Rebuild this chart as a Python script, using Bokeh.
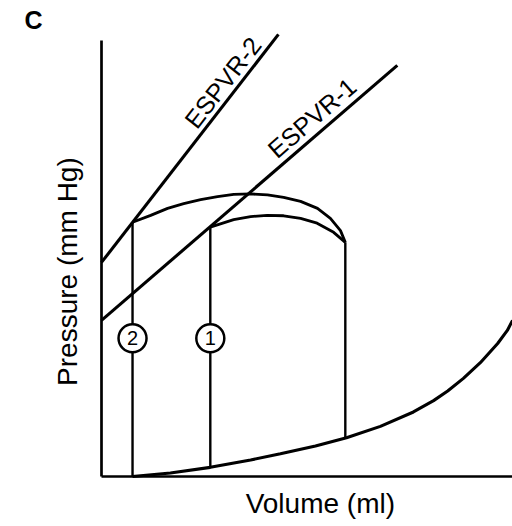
import math
import numpy as np
from bokeh.plotting import figure
from bokeh.models import Range1d, LinearAxis, FixedTicker, Label, ColumnDataSource
from bokeh.core.properties import value
from bokeh.embed import file_html
from bokeh.resources import INLINE

# ---- data (arbitrary volume / pressure units) ----
# end-diastolic pressure-volume relation
edpvr_volume = [7.7, 17.1, 27.0, 37.0, 44.4, 53.1, 60.8, 69.2, 77.4, 82.4, 85.9, 89.8, 94.0, 98.3, 100.7, 102.0]
edpvr_pressure = [0.0, 0.8, 2.1, 3.8, 5.2, 7.0, 8.9, 11.5, 14.8, 17.4, 19.6, 22.5, 26.1, 30.5, 33.5, 35.8]

# end-systolic pressure-volume relations (straight lines)
espvr1_volume = [0.0, 73.4]
espvr1_pressure = [35.8, 94.3]
espvr2_volume = [0.0, 43.9]
espvr2_pressure = [49.1, 101.4]

# ejection arcs of the two loops
loop2_volume = [7.7, 12.2, 16.4, 20.4, 24.6, 28.8, 32.8, 37.0, 41.2, 45.2, 49.4, 53.6, 56.8, 59.3, 60.5]
loop2_pressure = [58.3, 59.9, 61.5, 62.6, 63.5, 64.2, 64.7, 64.8, 64.6, 64.0, 63.1, 61.5, 59.2, 56.4, 53.7]
loop1_volume = [27.0, 32.8, 37.0, 41.1, 45.2, 49.4, 53.5, 57.6, 60.5]
loop1_pressure = [57.2, 58.9, 59.6, 59.9, 59.8, 59.2, 58.1, 56.0, 53.7]

end_diastolic_volume = 60.5
end_systolic_volumes = [27.0, 7.7]
loop_labels = ["1", "2"]
espvr_labels = ["ESPVR-1", "ESPVR-2"]

# ---- layout ----
W, H = 512, 520
ORIGIN_X, ORIGIN_Y = 101, 476   # pixel position of the axes' corner
px_x, px_y = 4.03, 4.36          # pixels per data unit
xr = Range1d(-ORIGIN_X / px_x, (W - ORIGIN_X) / px_x)
yr = Range1d(-(H - ORIGIN_Y) / px_y, ORIGIN_Y / px_y)

FONT = "Liberation Sans"

p = figure(width=W, height=H, output_backend="svg", toolbar_location=None,
           x_range=xr, y_range=yr, x_axis_location=None, y_axis_location=None,
           min_border=0, background_fill_color="white", border_fill_color="white")
p.outline_line_color = None
p.grid.grid_line_color = None


def make_axis(bounds):
    return LinearAxis(ticker=FixedTicker(ticks=[]), bounds=bounds, fixed_location=0,
                      major_tick_in=0, major_tick_out=0, minor_tick_in=0, minor_tick_out=0,
                      major_label_text_font_size="0px", major_label_standoff=0,
                      axis_line_color="black", axis_line_width=2.7)


p.add_layout(make_axis((0, 100)), "left")
p.add_layout(make_axis((0, 102)), "below")

# EDPVR
p.line(edpvr_volume, edpvr_pressure, line_color="black", line_width=3.1)
# ESPVRs
p.line(espvr1_volume, espvr1_pressure, line_color="black", line_width=3.1)
p.line(espvr2_volume, espvr2_pressure, line_color="black", line_width=3.1)
# ejection arcs
p.line(loop2_volume, loop2_pressure, line_color="black", line_width=2.8)
p.line(loop1_volume, loop1_pressure, line_color="black", line_width=2.8)

# isovolumic segments
vert_x = [end_systolic_volumes[1], end_systolic_volumes[0], end_diastolic_volume]
vert_y0 = [float(np.interp(v, edpvr_volume, edpvr_pressure)) for v in vert_x]
vert_y1 = [loop2_pressure[0], loop1_pressure[0], loop1_pressure[-1]]
p.segment(x0=vert_x, y0=vert_y0, x1=vert_x, y1=vert_y1, line_color="black", line_width=2.4)

# line labels along ESPVRs (text centre placed at a pixel gap above each line)
lab_x, lab_y, lab_a = [], [], []
for (vs, ps, frac, gap) in [(espvr1_volume, espvr1_pressure, 0.61, 16.0),
                            (espvr2_volume, espvr2_pressure, 0.565, 14.5)]:
    ang = math.atan(((ps[1] - ps[0]) * px_y) / ((vs[1] - vs[0]) * px_x))
    vx = vs[0] + frac * (vs[1] - vs[0])
    py = ps[0] + frac * (ps[1] - ps[0])
    lab_x.append(vx - gap * math.sin(ang) / px_x)
    lab_y.append(py + gap * math.cos(ang) / px_y)
    lab_a.append(ang)
p.text(x=lab_x, y=lab_y, text=espvr_labels, angle=lab_a,
       text_font=value(FONT), text_font_size="25px", text_color="black",
       text_align="left", text_baseline="middle")

# numbered badges
badge_pressure = 31.7
src = ColumnDataSource(dict(x=end_systolic_volumes, y=[badge_pressure] * 2, t=loop_labels))
p.scatter("x", "y", source=src, marker="circle", size=28, fill_color="white",
          line_color="black", line_width=2.5)
p.text("x", "y", text="t", source=src, text_font=value(FONT), text_font_size="20px",
       text_color="black", text_align="center", text_baseline="middle")

# axis titles and panel letter
p.add_layout(Label(x=-8.5, y=47.0, text="Pressure (mm Hg)", angle=math.pi / 2,
                   text_font=FONT, text_font_size="28px", text_color="black",
                   text_align="center", text_baseline="middle"))
p.add_layout(Label(x=54.3, y=-6.2, text="Volume (ml)",
                   text_font=FONT, text_font_size="28px", text_color="black",
                   text_align="center", text_baseline="middle"))
p.add_layout(Label(x=-19.1, y=104.8, text="C", text_font=FONT, text_font_style="bold",
                   text_font_size="25px", text_color="black",
                   text_align="left", text_baseline="middle"))

open("out.html", "w").write(file_html(p, INLINE))
